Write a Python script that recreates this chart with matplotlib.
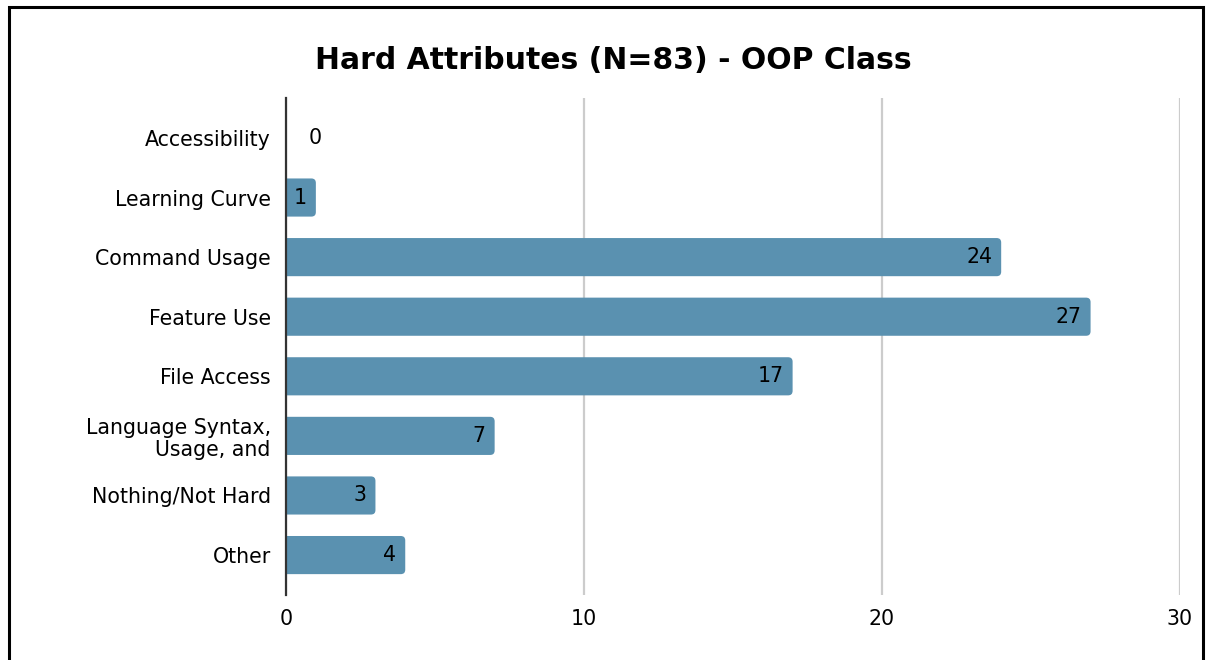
import matplotlib.pyplot as plt
from matplotlib.patches import Rectangle, FancyBboxPatch

categories = ['Accessibility', 'Learning Curve', 'Command Usage', 'Feature Use',
              'File Access', 'Language Syntax,\nUsage, and', 'Nothing/Not Hard', 'Other']
counts = [0, 1, 24, 27, 17, 7, 3, 4]
ticks = [0, 10, 20, 30]

plt.rcParams['font.family'] = ['DejaVu Sans']

fig = plt.figure(figsize=(12.07, 6.6), dpi=100)
ax = fig.add_axes([0.237, 0.0985, 0.7406, 0.753])

y = list(range(len(categories)))
bars = ax.barh(y, counts, height=0.64, color='#5a91b0', zorder=3)
# swap the plain bars for ones with rounded right corners (left end hidden past the axis)
for b in bars:
    b.set_visible(False)
    if b.get_width() <= 0:
        continue
    ax.add_patch(FancyBboxPatch((b.get_x() - 0.3, b.get_y()), b.get_width() + 0.3, b.get_height(),
                                boxstyle='round,pad=0,rounding_size=0.15', mutation_aspect=0.5,
                                facecolor='#5a91b0', edgecolor='none', zorder=3))

ax.set_ylim(len(categories) - 0.33, -0.67)
ax.set_xlim(0, 30)
ax.set_yticks(y)
ax.set_yticklabels(categories, fontsize=14.8, linespacing=1.15)
ax.set_xticks(ticks)
ax.set_xticklabels([str(t) for t in ticks], fontsize=14.8)
ax.tick_params(axis='y', length=0, pad=11)
ax.tick_params(axis='x', length=0, pad=10)

for s in ['top', 'right', 'bottom']:
    ax.spines[s].set_visible(False)
ax.spines['left'].set_color('#333333')
ax.spines['left'].set_linewidth(1.6)
ax.spines['left'].set_zorder(4)
ax.xaxis.grid(True, color='#cccccc', linewidth=1.6, zorder=0)
ax.set_axisbelow(True)

for i, v in enumerate(counts):
    if v == 0:
        ax.text(0.98, i, str(v), va='center', ha='center', fontsize=14.8)
    else:
        ax.text(v - 0.3, i, str(v), va='center', ha='right', fontsize=14.8, zorder=5)

fig.text(0.508, 0.908, 'Hard Attributes (N=83) - OOP Class', ha='center', va='center',
         fontsize=21.5, fontweight='bold')

fig.patches.append(Rectangle((0.0075, -0.05), 0.9895, 1.04, transform=fig.transFigure,
                             fill=False, edgecolor='black', linewidth=2.2))

fig.savefig('out.png', dpi=100)
